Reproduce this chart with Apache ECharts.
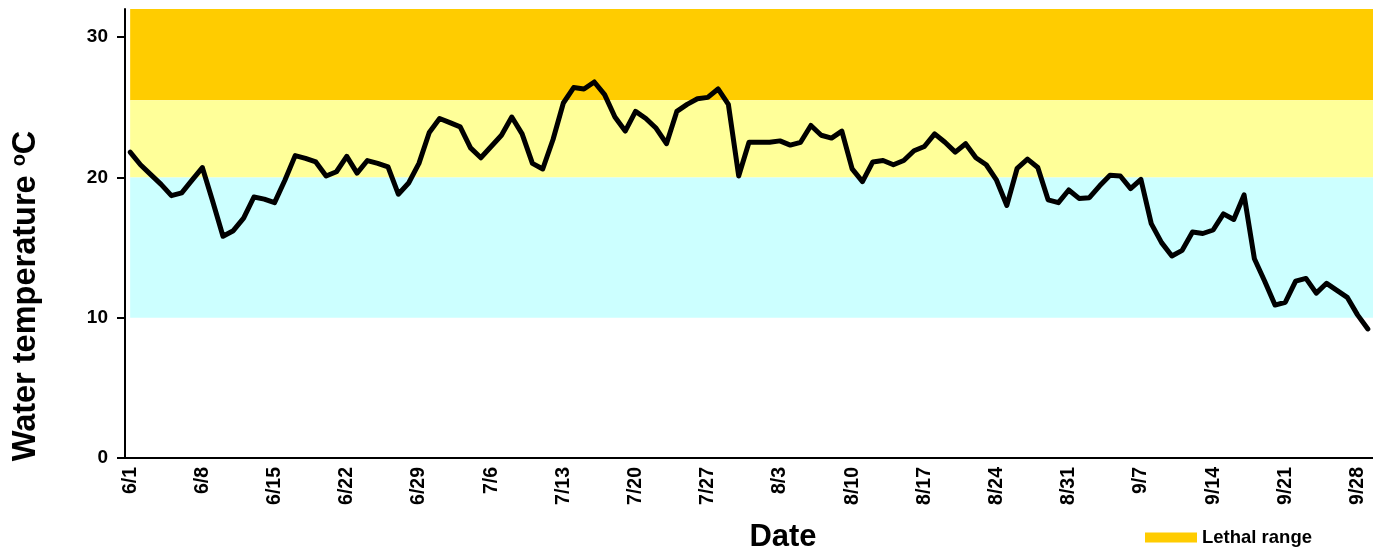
<!DOCTYPE html>
<html>
<head>
<meta charset="utf-8">
<title>Water temperature</title>
<script src="https://cdn.jsdelivr.net/npm/echarts@6/dist/echarts.min.js"></script>
<style>
  html, body { margin: 0; padding: 0; background: #fff; }
  #waterTempChart { width: 1373px; height: 553px; }
</style>
</head>
<body>
<div id="waterTempChart"></div>
<script>
// daily dates, 6/1 .. 9/29
const dates = [
  '6/1', '6/2', '6/3', '6/4', '6/5', '6/6', '6/7', '6/8', '6/9', '6/10',
  '6/11', '6/12', '6/13', '6/14', '6/15', '6/16', '6/17', '6/18', '6/19', '6/20',
  '6/21', '6/22', '6/23', '6/24', '6/25', '6/26', '6/27', '6/28', '6/29', '6/30',
  '7/1', '7/2', '7/3', '7/4', '7/5', '7/6', '7/7', '7/8', '7/9', '7/10',
  '7/11', '7/12', '7/13', '7/14', '7/15', '7/16', '7/17', '7/18', '7/19', '7/20',
  '7/21', '7/22', '7/23', '7/24', '7/25', '7/26', '7/27', '7/28', '7/29', '7/30',
  '7/31', '8/1', '8/2', '8/3', '8/4', '8/5', '8/6', '8/7', '8/8', '8/9',
  '8/10', '8/11', '8/12', '8/13', '8/14', '8/15', '8/16', '8/17', '8/18', '8/19',
  '8/20', '8/21', '8/22', '8/23', '8/24', '8/25', '8/26', '8/27', '8/28', '8/29',
  '8/30', '8/31', '9/1', '9/2', '9/3', '9/4', '9/5', '9/6', '9/7', '9/8',
  '9/9', '9/10', '9/11', '9/12', '9/13', '9/14', '9/15', '9/16', '9/17', '9/18',
  '9/19', '9/20', '9/21', '9/22', '9/23', '9/24', '9/25', '9/26', '9/27', '9/28',
  '9/29'
];

// water temperature, deg C
const waterTemp = [
  21.8, 20.9, 20.2, 19.5, 18.7, 18.9, 19.8, 20.7, 18.3, 15.8,
  16.2, 17.1, 18.6, 18.45, 18.2, 19.8, 21.55, 21.35, 21.1, 20.1,
  20.4, 21.5, 20.3, 21.2, 21.0, 20.75, 18.8, 19.6, 21.0, 23.2,
  24.2, 23.9, 23.6, 22.1, 21.4, 22.2, 23.0, 24.3, 23.1, 21.0,
  20.6, 22.7, 25.3, 26.4, 26.3, 26.8, 25.9, 24.3, 23.3, 24.7,
  24.2, 23.5, 22.4, 24.7, 25.2, 25.6, 25.7, 26.3, 25.2, 20.1,
  22.5, 22.5, 22.5, 22.6, 22.3, 22.5, 23.7, 23.0, 22.8, 23.3,
  20.6, 19.7, 21.1, 21.2, 20.9, 21.2, 21.9, 22.2, 23.1, 22.5,
  21.8, 22.4, 21.4, 20.9, 19.8, 18.0, 20.65, 21.3, 20.7, 18.4,
  18.2, 19.1, 18.5, 18.55, 19.4, 20.15, 20.1, 19.2, 19.85, 16.7,
  15.35, 14.4, 14.8, 16.1, 16.0, 16.25, 17.4, 17.0, 18.75, 14.2,
  12.6, 10.9, 11.1, 12.6, 12.8, 11.75, 12.45, 11.95, 11.45, 10.2,
  9.2
];

// range limits: optimal 10-20, stressful 20-25.5, lethal 25.5 and up
const bandLimits = [10, 20, 25.5, 32];
const yTicks = [0, 10, 20, 30];

const chart = echarts.init(document.getElementById('waterTempChart'));
window.addEventListener('resize', function() {
  chart.resize();
});

const fontFamily = '"Liberation Sans", Arial, sans-serif';

chart.setOption({
  animation: false,
  backgroundColor: '#fff',
  grid: {
    left: 125,
    right: -2,
    top: 9,
    bottom: 95
  },
  legend: {
    data: ['Lethal range'],
    left: 1140,
    top: 523,
    icon: 'rect',
    itemWidth: 52,
    itemHeight: 10,
    textStyle: {
      color: '#000',
      fontFamily: fontFamily,
      fontWeight: 'bold',
      fontSize: 18.5
    }
  },
  xAxis: {
    type: 'category',
    data: dates,
    boundaryGap: true,
    axisLine: {
      lineStyle: { color: '#000', width: 2 }
    },
    axisTick: {
      interval: 6,
      length: 6,
      lineStyle: { color: '#000', width: 2 }
    },
    axisLabel: {
      interval: 6,
      rotate: 90,
      margin: 9,
      color: '#000',
      fontFamily: fontFamily,
      fontWeight: 'bold',
      fontSize: 19.5
    },
    splitLine: { show: false }
  },
  yAxis: {
    type: 'value',
    min: yTicks[0],
    max: bandLimits[3],
    interval: 10,
    axisLine: {
      show: true,
      lineStyle: { color: '#000', width: 2 }
    },
    axisTick: {
      show: true,
      length: 8,
      customValues: yTicks,
      lineStyle: { color: '#000', width: 2 }
    },
    axisLabel: {
      margin: 17,
      customValues: yTicks,
      color: '#000',
      fontFamily: fontFamily,
      fontWeight: 'bold',
      fontSize: 19
    },
    splitLine: { show: false }
  },
  graphic: [
    {
      type: 'text',
      x: 26,
      y: 296,
      rotation: Math.PI / 2,
      style: {
        text: '{a|Water temperature }{s|o}{a|C}',
        textAlign: 'center',
        textVerticalAlign: 'middle',
        fill: '#000',
        rich: {
          a: {
            fontFamily: fontFamily,
            fontWeight: 'bold',
            fontSize: 32.5,
            fill: '#000'
          },
          s: {
            fontFamily: fontFamily,
            fontWeight: 'bold',
            fontSize: 20,
            verticalAlign: 'top',
            fill: '#000'
          }
        }
      }
    },
    {
      type: 'text',
      x: 783,
      y: 537,
      style: {
        text: 'Date',
        textAlign: 'center',
        textVerticalAlign: 'middle',
        fill: '#000',
        fontFamily: fontFamily,
        fontWeight: 'bold',
        fontSize: 31
      }
    }
  ],
  series: [
    {
      name: 'Lethal range',
      type: 'bar',
      data: [],
      itemStyle: { color: '#FFCC00' }
    },
    {
      name: 'Water temperature',
      type: 'line',
      data: waterTemp,
      showSymbol: false,
      symbol: 'none',
      z: 5,
      lineStyle: {
        color: '#000',
        width: 5,
        cap: 'round',
        join: 'round'
      },
      markArea: {
        silent: true,
        label: { show: false },
        data: [
          [
            { xAxis: dates[0], yAxis: bandLimits[2], itemStyle: { color: '#FFCC00' } },
            { yAxis: bandLimits[3] }
          ],
          [
            { xAxis: dates[0], yAxis: bandLimits[1], itemStyle: { color: '#FFFF99' } },
            { yAxis: bandLimits[2] }
          ],
          [
            { xAxis: dates[0], yAxis: bandLimits[0], itemStyle: { color: '#CCFFFF' } },
            { yAxis: bandLimits[1] }
          ]
        ]
      }
    }
  ]
});
</script>
</body>
</html>
